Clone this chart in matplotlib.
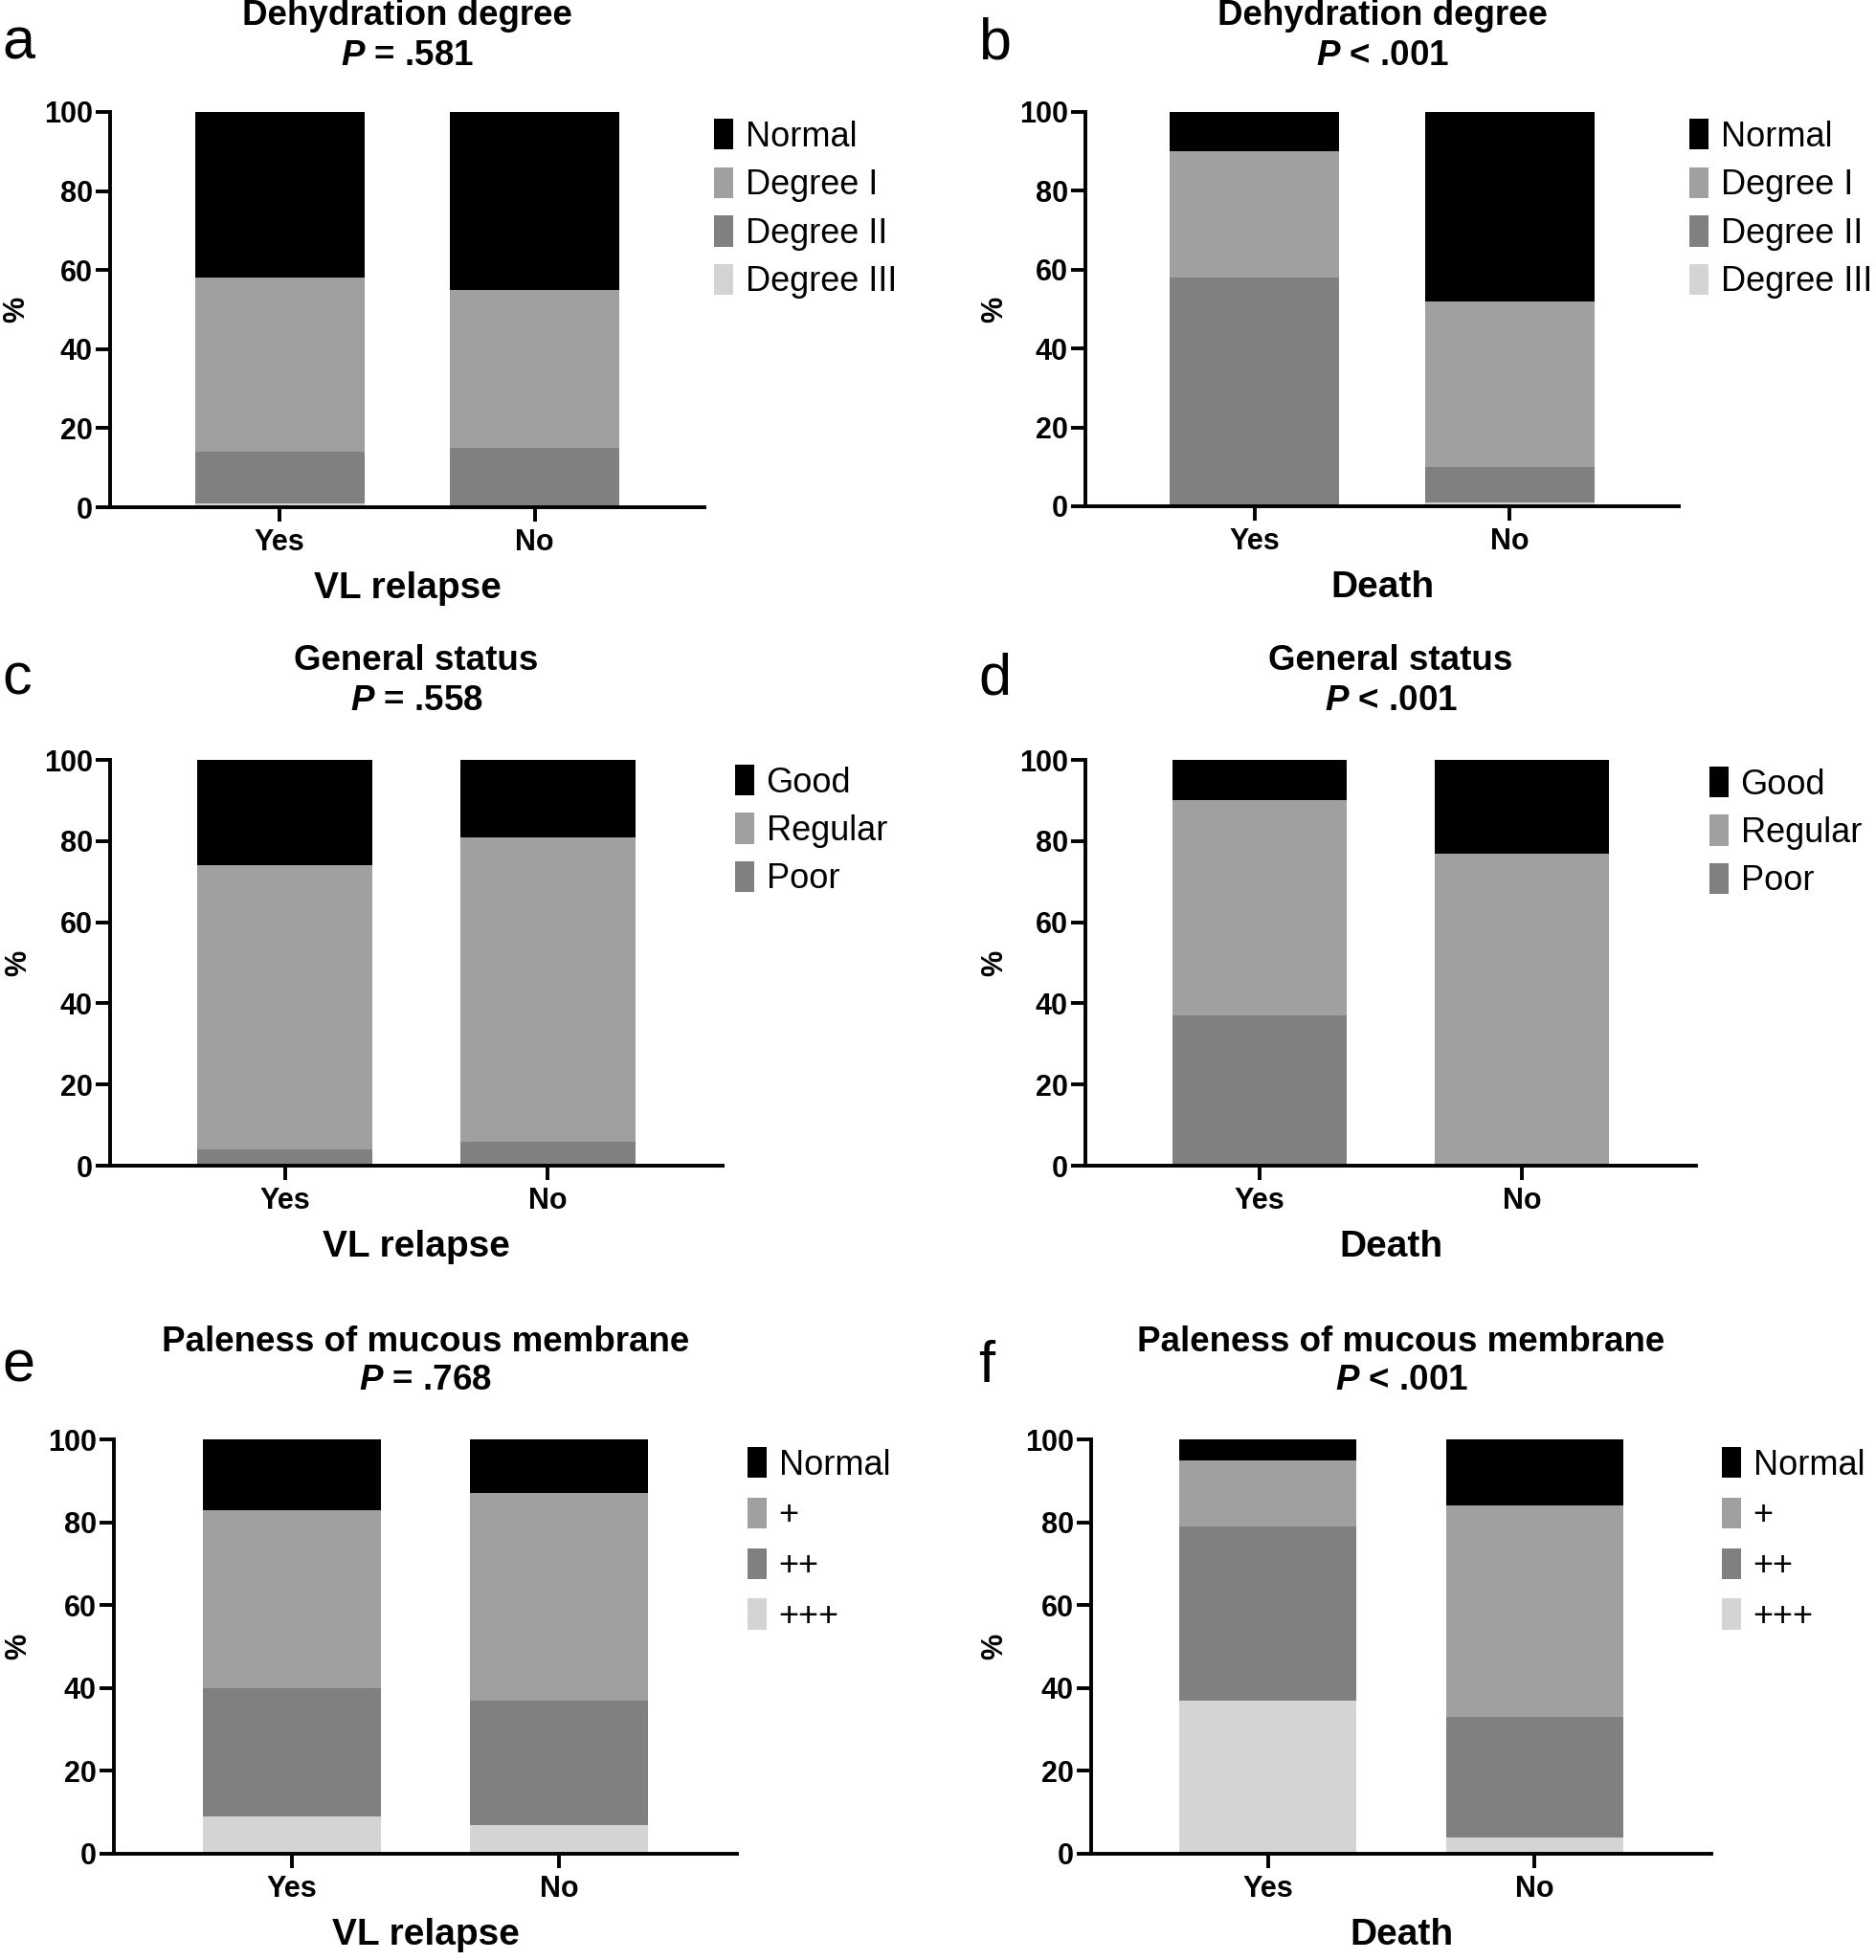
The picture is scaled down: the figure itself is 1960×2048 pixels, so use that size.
import numpy as np
import matplotlib
matplotlib.use("Agg")
import matplotlib.pyplot as plt

plt.rcParams['font.family'] = ['Liberation Sans', 'DejaVu Sans']
plt.rcParams['mathtext.fontset'] = 'custom'
plt.rcParams['mathtext.it'] = 'Liberation Sans:italic:bold'
plt.rcParams['mathtext.rm'] = 'Liberation Sans:bold'

W, H = 1960, 2048

groups = ["Yes", "No"]

# dehydration degree (legend order, top of stack first)
dehyd_cats = ["Normal", "Degree I", "Degree II", "Degree III"]
a_vals = [[42, 45], [44, 40], [13, 15], [1, 0]]
b_vals = [[10, 48], [32, 42], [58, 9], [0, 1]]

# general status
status_cats = ["Good", "Regular", "Poor"]
c_vals = [[26, 19], [70, 75], [4, 6]]
d_vals = [[10, 23], [53, 77], [37, 0]]

# paleness of mucous membrane
pale_cats = ["Normal", "+", "++", "+++"]
e_vals = [[17, 13], [43, 50], [31, 30], [9, 7]]
f_vals = [[5, 16], [16, 51], [42, 29], [37, 4]]

col4 = ["#000000", "#a0a0a0", "#808080", "#d4d4d4"]
col3 = ["#000000", "#a0a0a0", "#808080"]

fig = plt.figure(figsize=(W / 100, H / 100), dpi=100)


def panel(box, letter, lpos, ylab_x, title, pval, toff, xlabel, cats, vals, colors, leg, lspace):
    left, top, right, bottom = box
    ax = fig.add_axes([left / W, 1 - bottom / H, (right - left) / W, (bottom - top) / H])
    ph = bottom - top
    x = np.arange(len(groups))
    base = np.zeros(len(groups))
    handles = []
    # stack from the bottom category up
    for cat, v, c in reversed(list(zip(cats, vals, colors))):
        b = ax.bar(x, v, width=0.665, bottom=base, color=c, label=cat, linewidth=0)
        base += np.array(v)
        handles.append(b)
    handles = handles[::-1]
    ax.set_xlim(-0.665, 1.665)
    ax.set_ylim(0, 100)
    ax.set_yticks([0, 20, 40, 60, 80, 100])
    ax.set_xticks(x)
    ax.set_xticklabels(groups)
    for s in ["top", "right"]:
        ax.spines[s].set_visible(False)
    for s in ["left", "bottom"]:
        ax.spines[s].set_linewidth(2.8)
    ax.tick_params(axis="both", length=11, width=2.8, labelsize=22)
    ax.tick_params(axis="y", pad=2)
    ax.tick_params(axis="x", pad=5)
    for t in ax.get_xticklabels() + ax.get_yticklabels():
        t.set_fontweight("bold")
    ax.set_ylabel("%", fontsize=22, fontweight="bold", va="center")
    ax.yaxis.set_label_coords((ylab_x - left) / (right - left), 0.5)
    ax.set_xlabel(xlabel, fontsize=28, fontweight="bold", va="center")
    ax.xaxis.set_label_coords(0.5, -85 / ph)
    ax.text(0.5, 1 + toff[0] / ph, title, transform=ax.transAxes, ha="center",
            va="center", fontsize=26.5, fontweight="bold")
    ax.text(0.5, 1 + toff[1] / ph, pval, transform=ax.transAxes, ha="center",
            va="center", fontsize=26.5, fontweight="bold")
    fig.text(lpos[0] / W, 1 - lpos[1] / H, letter, fontsize=44, ha="left", va="baseline")
    lx, ly = leg
    ax.legend(handles, cats, loc="upper left", bbox_to_anchor=(lx / W, 1 - ly / H),
              bbox_transform=fig.transFigure, frameon=False, fontsize=26,
              handlelength=0.55, handleheight=1.0, handletextpad=0.35,
              labelspacing=lspace, borderpad=0, borderaxespad=0)
    return ax


panel((115, 117, 736, 530), "a", (2, 61), 17, "Dehydration degree", r"$\mathit{P}$ = .581", (100, 59),
      "VL relapse", dehyd_cats, a_vals, col4, (746, 124), 0.39)
panel((1134, 117, 1754, 529), "b", (1022, 61), 1039, "Dehydration degree", r"$\mathit{P}$ < .001", (100, 59),
      "Death", dehyd_cats, b_vals, col4, (1765, 124), 0.39)
panel((115, 794, 755, 1218), "c", (2, 725), 19, "General status", r"$\mathit{P}$ = .558", (103, 61),
      "VL relapse", status_cats, c_vals, col3, (768, 799), 0.38)
panel((1134, 794, 1772, 1218), "d", (1022, 725), 1039, "General status", r"$\mathit{P}$ < .001", (103, 61),
      "Death", status_cats, d_vals, col3, (1786, 801), 0.38)
panel((119, 1504, 770, 1937), "e", (2, 1444), 19, "Paleness of mucous membrane", r"$\mathit{P}$ = .768", (102, 62),
      "VL relapse", pale_cats, e_vals, col4, (781, 1512), 0.45)
panel((1140, 1504, 1788, 1937), "f", (1022, 1444), 1039, "Paleness of mucous membrane", r"$\mathit{P}$ < .001", (102, 62),
      "Death", pale_cats, f_vals, col4, (1799, 1512), 0.45)

fig.savefig("out.png", dpi=100)
